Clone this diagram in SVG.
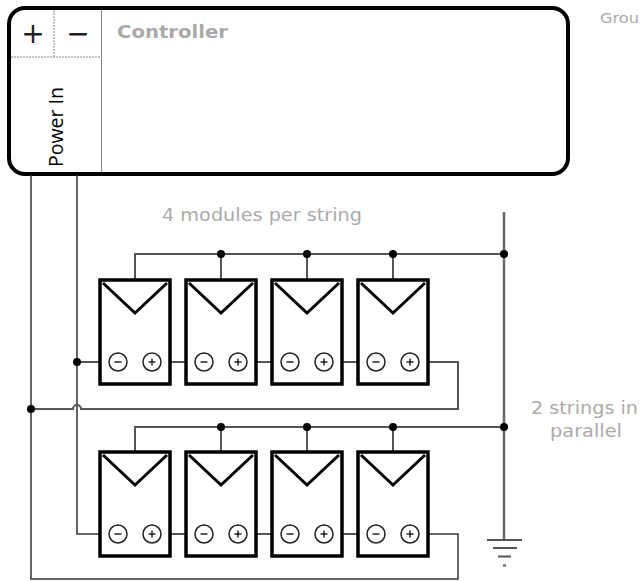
<svg xmlns="http://www.w3.org/2000/svg" width="641" height="581" viewBox="0 0 641 581">
<style>
.wire{fill:none;stroke:#555;stroke-width:2}
.lead{fill:none;stroke:#333;stroke-width:1.5}
.mod{fill:#fff;stroke:#000;stroke-width:3.5}
.v{fill:none;stroke:#000;stroke-width:3}
.term{fill:#fff;stroke:#222;stroke-width:1.5}
.sign{stroke:#222;stroke-width:1.5}
.dot{fill:#000}
.lbl{font-family:"DejaVu Sans",Verdana,sans-serif;fill:#aaa}
</style>
<defs>
<g id="pv">
<rect class="mod" x="0" y="0" width="70" height="104"/>
<polyline class="v" points="3,3 35,33 67,3"/>
<circle class="term" cx="18" cy="82" r="9"/>
<line class="sign" x1="14.5" y1="82" x2="21.5" y2="82"/>
<circle class="term" cx="52" cy="82" r="9"/>
<line class="sign" x1="48.5" y1="82" x2="55.5" y2="82"/>
<line class="sign" x1="52" y1="78.5" x2="52" y2="85.5"/>
</g>
</defs>
<g id="controller">
<rect x="9" y="8" width="559" height="166" rx="16" fill="#fff" stroke="#000" stroke-width="4"/>
<line x1="101.5" y1="10" x2="101.5" y2="172" stroke="#888" stroke-width="1"/>
<line x1="11" y1="57" x2="101" y2="57" stroke="#888" stroke-width="1" stroke-dasharray="2,1"/>
<line x1="54" y1="10" x2="54" y2="57" stroke="#888" stroke-width="1" stroke-dasharray="2,1"/>
<text x="33" y="43" font-family="DejaVu Sans,sans-serif" font-size="28" text-anchor="middle" fill="#222">+</text>
<text x="78" y="43" font-family="DejaVu Sans,sans-serif" font-size="28" text-anchor="middle" fill="#222">−</text>
<text class="lbl" x="117" y="38" font-size="18" font-weight="bold" textLength="111" lengthAdjust="spacingAndGlyphs">Controller</text>
<text x="63" y="127" transform="rotate(-90 63 127)" font-family="Open Sans,sans-serif" font-size="20" text-anchor="middle" fill="#000" textLength="80" lengthAdjust="spacingAndGlyphs">Power In</text>
</g>
<g id="connectors">
<polyline class="lead" points="31,175 31,579 458,579 458,534 419,534"/>
<polyline class="lead" points="77,175 77,534 109,534"/>
<line class="wire" x1="77" y1="362" x2="109" y2="362"/>
<line class="wire" x1="161" y1="362" x2="195" y2="362"/>
<line class="wire" x1="247" y1="362" x2="281" y2="362"/>
<line class="wire" x1="333" y1="362" x2="367" y2="362"/>
<path class="wire" d="M419,362 H458 V409 H81 A4,4 0 0 0 73,409 H31"/>
<line class="wire" x1="161" y1="534" x2="195" y2="534"/>
<line class="wire" x1="247" y1="534" x2="281" y2="534"/>
<line class="wire" x1="333" y1="534" x2="367" y2="534"/>
<path class="wire" d="M135,280 V254 H504"/>
<line class="wire" x1="221" y1="254" x2="221" y2="280"/>
<line class="wire" x1="307" y1="254" x2="307" y2="280"/>
<line class="wire" x1="393" y1="254" x2="393" y2="280"/>
<path class="wire" d="M135,451 V427 H504"/>
<line class="wire" x1="221" y1="427" x2="221" y2="451"/>
<line class="wire" x1="307" y1="427" x2="307" y2="451"/>
<line class="wire" x1="393" y1="427" x2="393" y2="451"/>
<line x1="504" y1="212" x2="504" y2="540" stroke="#666" stroke-width="2.5"/>
<circle class="dot" cx="77" cy="362" r="4"/>
<circle class="dot" cx="31" cy="409" r="4"/>
<circle class="dot" cx="221" cy="254" r="4"/>
<circle class="dot" cx="307" cy="254" r="4"/>
<circle class="dot" cx="393" cy="254" r="4"/>
<circle class="dot" cx="504" cy="254" r="4"/>
<circle class="dot" cx="221" cy="427" r="4"/>
<circle class="dot" cx="307" cy="427" r="4"/>
<circle class="dot" cx="393" cy="427" r="4"/>
<circle class="dot" cx="504" cy="427" r="4"/>
</g>
<g id="string1">
<use href="#pv" x="100" y="280"/>
<use href="#pv" x="186" y="280"/>
<use href="#pv" x="272" y="280"/>
<use href="#pv" x="358" y="280"/>
</g>
<g id="string2">
<use href="#pv" x="100" y="452"/>
<use href="#pv" x="186" y="452"/>
<use href="#pv" x="272" y="452"/>
<use href="#pv" x="358" y="452"/>
</g>
<g id="ground">
<line x1="487" y1="540" x2="522" y2="540" stroke="#555" stroke-width="2"/>
<line x1="493" y1="548" x2="517" y2="548" stroke="#555" stroke-width="2"/>
<line x1="498" y1="556.5" x2="511" y2="556.5" stroke="#555" stroke-width="2"/>
<line x1="503" y1="565.5" x2="506" y2="565.5" stroke="#555" stroke-width="2"/>
</g>
<g id="labels">
<text class="lbl" x="162" y="221" font-size="17" textLength="200" lengthAdjust="spacingAndGlyphs">4 modules per string</text>
<text class="lbl" x="531" y="414" font-size="17" textLength="107" lengthAdjust="spacingAndGlyphs">2 strings in</text>
<text class="lbl" x="550" y="437" font-size="17" textLength="72" lengthAdjust="spacingAndGlyphs">parallel</text>
<text class="lbl" x="600" y="23" font-size="14" textLength="39" lengthAdjust="spacingAndGlyphs">Grou</text>
</g>
</svg>
